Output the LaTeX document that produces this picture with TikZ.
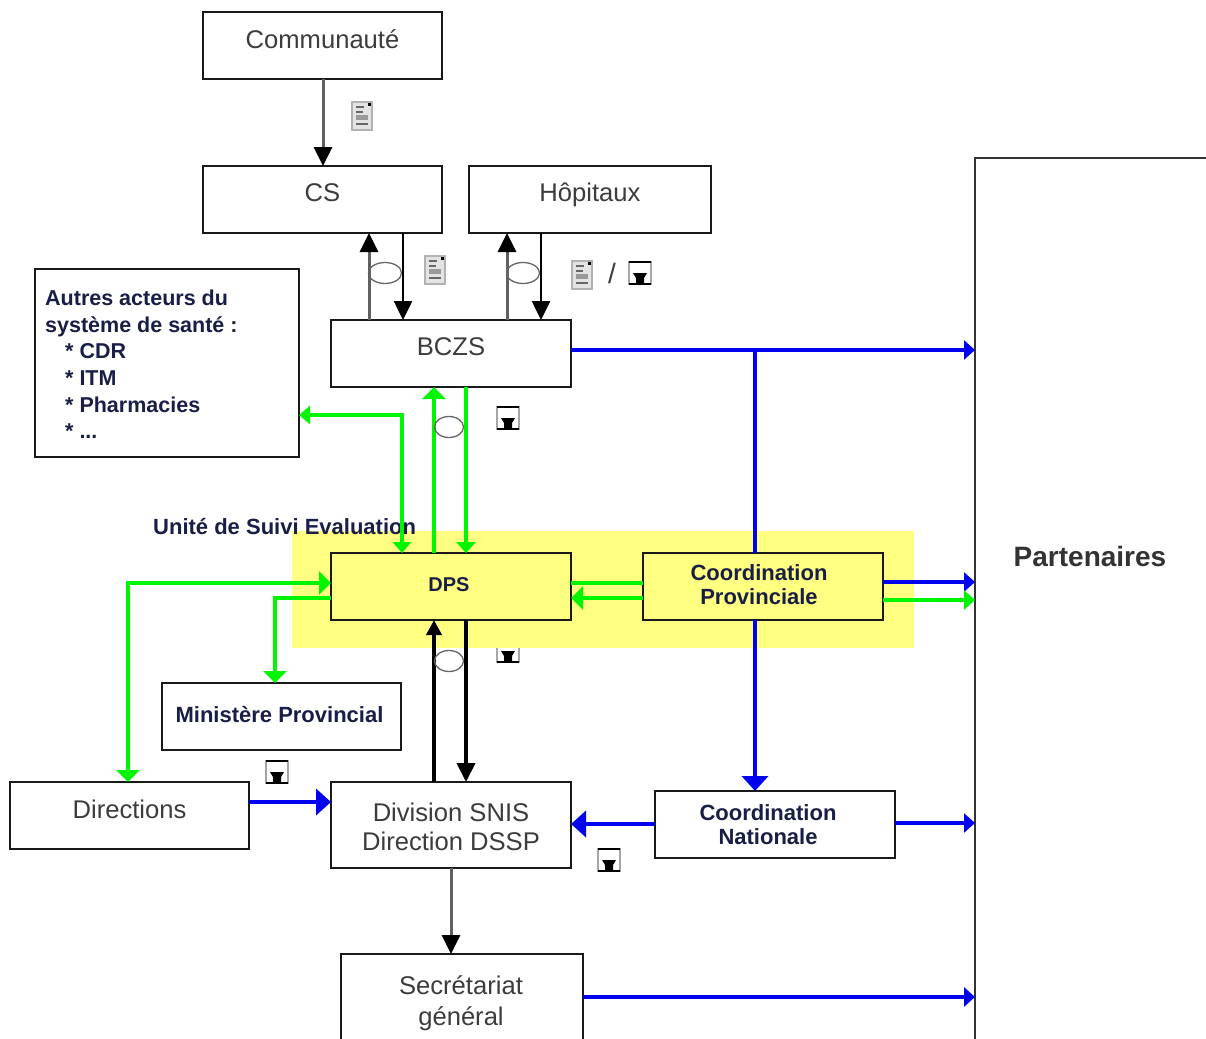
\documentclass[tikz,border=0pt]{standalone}
\usepackage{fontspec}
\setmainfont{Liberation Sans}
\usetikzlibrary{arrows.meta,calc,shapes.geometric}
\definecolor{gblue}{RGB}{0,0,240}
\definecolor{ggreen}{RGB}{0,245,0}
\definecolor{gyel}{RGB}{255,255,130}
\definecolor{gtxt}{RGB}{60,60,60}
\definecolor{nav}{RGB}{25,30,70}
\tikzset{
  box/.style={draw=black!90,line width=2pt,rectangle,inner sep=0pt,outer sep=0pt,fill=white,text=gtxt,font=\fontsize{25.6}{30}\selectfont,align=center},
  uptext/.style={text height=18pt,text depth=11pt},
  uptextb/.style={text height=18pt,text depth=15pt},
  uptextc/.style={text height=18pt,text depth=13pt},
  lab/.style={inner sep=0pt,align=center,text=gtxt,font=\fontsize{25.6}{30}\selectfont},
  blab/.style={inner sep=0pt,align=center,text=nav,font=\fontsize{22}{24}\selectfont\bfseries},
  big/.style={-{Triangle[length=15pt,width=26pt]}},
  bigk/.style={-{Triangle[length=19pt,width=18pt,black]}},
  upk/.style={-{Triangle[length=15pt,width=15pt]}},
  mid/.style={-{Triangle[length=12pt,width=23pt]}},
  bothmid/.style={{Triangle[length=12pt,width=23pt]}-{Triangle[length=12pt,width=23pt]}},
  bothsmall/.style={{Triangle[length=11pt,width=18pt]}-{Triangle[length=11pt,width=18pt]}},
  small/.style={-{Triangle[length=11pt,width=19pt]}},
  blk/.style={line width=2.6pt,black},
  gry/.style={line width=3pt,gray!75!black},
  thick k/.style={line width=4pt,black},
  blu/.style={line width=4pt,gblue},
  grn/.style={line width=4pt,ggreen},
  loopmark/.style={ellipse,draw=black!60,line width=1.3pt,minimum width=33pt,minimum height=21pt,inner sep=0pt},
  loopmarkb/.style={loopmark,minimum width=29pt},
  docicon/.pic={
    \fill[gray!22] (-10,-14) rectangle (10,14);
    \draw[gray!60,line width=1.2pt] (-10,-14) rectangle (10,14);
    \fill[black] (6,-13) rectangle (9,-10);
    \draw[gray!80!black,line width=1.4pt] (-6,-9)--(2,-9) (-6,-4)--(1,-4) (-6,8)--(6,8);
    \fill[gray!80] (-6,-1) rectangle (6,4);
  },
  diskicon/.pic={
    \fill[white] (-11,-12) rectangle (11,12);
    \draw[gray!70,line width=1.4pt] (-11,-11) rectangle (11,11);
    \draw[black,line width=2pt] (-11,-11) -- (11,-11) (-11,11) -- (11,11);
    \fill[black] (-7,0) -- (7,0) -- (4,5) -- (4,11) -- (-4,11) -- (-4,5) -- cycle;
  }
}
\begin{document}
\begin{tikzpicture}[x=1pt,y=-1pt]
\useasboundingbox (0,0) rectangle (1206,1038);
\clip (0,0) rectangle (1206,1038);
\fill[white] (0,0) rectangle (1206,1038);
% icon hidden by the band
\pic at (508,651) {diskicon};
\fill[gyel] (292,531) rectangle (914,648);
% boxes
\node[box,uptext,minimum width=239pt,minimum height=67pt] (com) at (322.5,45.5) {Communauté};
\node[box,uptextb,minimum width=239pt,minimum height=67pt] (cs) at (322.5,199.5) {CS};
\node[box,uptextb,minimum width=242pt,minimum height=67pt] (hop) at (590,199.5) {Hôpitaux};
\node[box,uptextb,minimum width=240pt,minimum height=67pt] (bczs) at (451,353.5) {BCZS};
\node[box,minimum width=264pt,minimum height=188pt] (autres) at (167,363) {};
\node[anchor=north west,inner sep=0pt,font=\fontsize{21.5}{26.6}\selectfont\bfseries,text=nav,align=left] (autrestxt) at (45,290) {Autres acteurs du\\système de santé :\\\hspace{20pt}* CDR\\\hspace{20pt}* ITM\\\hspace{20pt}* Pharmacies\\\hspace{20pt}* ...};
\node[box,fill=gyel,minimum width=240pt,minimum height=67pt] (dps) at (451,586.5) {};
\node[blab,font=\fontsize{20}{24}\selectfont\bfseries] (dpstxt) at (449,585) {DPS};
\node[box,fill=gyel,minimum width=240pt,minimum height=67pt] (cp) at (763,586.5) {};
\node[blab] (cptxt) at (759,585) {Coordination\\Provinciale};
\node[box,minimum width=239pt,minimum height=67pt] (minp) at (281,716.5) {};
\node[blab] (minptxt) at (279.5,715) {Ministère Provincial};
\node[box,uptextc,minimum width=239pt,minimum height=67pt] (dir) at (129.5,815.5) {Directions};
\node[box,minimum width=240pt,minimum height=86pt] (div) at (451,825) {};
\node[lab,font=\fontsize{25.6}{29}\selectfont] (divtxt) at (451,827) {Division SNIS\\Direction DSSP};
\node[box,minimum width=240pt,minimum height=67pt] (cn) at (775,824.5) {};
\node[blab] (cntxt) at (768,825) {Coordination\\Nationale};
\node[box,minimum width=242pt,minimum height=110pt,anchor=north west] (sec) at (340.5,954) {};
\node[lab,font=\fontsize{25.6}{31}\selectfont] (sectxt) at (461,1003) {Secrétariat\\général};
\node[box,draw=black!80,line width=2.4pt,anchor=north west,minimum width=300pt,minimum height=1000pt] (part) at (975,158) {};
\node[inner sep=0pt,font=\fontsize{28}{30}\selectfont\bfseries,text=black!80] (parttxt) at (1090,556) {Partenaires};
\node[blab,anchor=west] (usetxt) at (153,527) {Unité de Suivi Evaluation};
% x guides
\foreach \n/\x in {a/369,b/403,c/507,d/541,e/402,f/434,g/466,h/128,i/275,j/755,k/323,l/451}{\coordinate (x\n) at (\x,0);}
\foreach \n/\y in {p/350,q/415,r/583,s/598,t/600,u/802,v/824,w/997,z/582,y/823}{\coordinate (y\n) at (0,\y);}
% black/grey
\draw[gry,bigk] (com.south -| xk) -- (cs.north -| xk);
\draw[gry,bigk] (bczs.north -| xa) -- (cs.south -| xa);
\draw[blk,bigk] (cs.south -| xb) -- (bczs.north -| xb);
\draw[gry,bigk] (bczs.north -| xc) -- (hop.south -| xc);
\draw[blk,bigk] (hop.south -| xd) -- (bczs.north -| xd);
\draw[thick k,upk] (div.north -| xf) -- (dps.south -| xf);
\draw[thick k,bigk] (dps.south -| xg) -- (div.north -| xg);
\draw[gry,bigk] (div.south -| xl) -- (sec.north -| xl);
% blue
\draw[blu,small] (bczs.east |- yp) -- (part.west |- yp);
\draw[blu] (cp.north -| xj) -- (xj |- yp);
\draw[blu,small] (cp.east |- yz) -- (part.west |- yz);
\draw[blu,big] (cp.south -| xj) -- (cn.north -| xj);
\draw[blu,big] (dir.east |- yu) -- (div.west |- yu);
\draw[blu,big] (cn.west |- yv) -- (div.east |- yv);
\draw[blu,small] (cn.east |- yy) -- (part.west |- yy);
\draw[blu,small] (sec.east |- yw) -- (part.west |- yw);
% green
\draw[grn,small] (cp.east |- yt) -- (part.west |- yt);
\draw[grn] (cp.west |- yr) -- (dps.east |- yr);
\draw[grn,mid] (cp.west |- ys) -- (dps.east |- ys);
\draw[grn,bothsmall] (dps.north -| xe) -- (xe |- yq) -- (autres.east |- yq);
\draw[grn,mid] (dps.north -| xf) -- (bczs.south -| xf);
\draw[grn,small] (bczs.south -| xg) -- (dps.north -| xg);
\draw[grn,bothmid] (dps.west |- yr) -- (xh |- yr) -- (dir.north -| xh);
\draw[grn,mid] (dps.west |- ys) -- (xi |- ys) -- (minp.north -| xi);
% loop marks
\node[loopmark] (m1) at (385,273) {};
\node[loopmark] (m2) at (523,273) {};
\node[loopmarkb] (m3) at (449,427) {};
\node[loopmarkb] (m4) at (449,661) {};
% icons
\pic at (362,116) {docicon};
\pic at (435,270) {docicon};
\pic at (582,275) {docicon};
\pic at (640,273) {diskicon};
\pic at (508,418) {diskicon};
\pic at (277,772) {diskicon};
\pic at (609,860) {diskicon};
\node[inner sep=0pt,font=\fontsize{28}{28}\selectfont,text=gtxt] (sl) at (612,273) {/};
\end{tikzpicture}
\end{document}
